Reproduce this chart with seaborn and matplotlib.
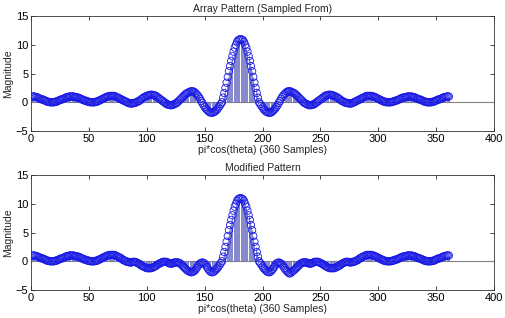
import numpy as np
import seaborn as sns
import matplotlib.pyplot as plt

# sample index (360 samples, main lobe centred on 181)
samples = list(range(1, 362))

# magnitude, sample by sample
array_pattern = [
    1.0, 1.0, 1.0, 0.9, 0.9, 0.8, 0.7, 0.6, 0.5, 0.5, 0.4, 0.3, 0.2, 0.1, 0.1, 0.0, 0.0, 0.0,
    0.0, 0.0, 0.1, 0.1, 0.2, 0.3, 0.4, 0.5, 0.5, 0.6, 0.7, 0.8, 0.9, 0.9, 1.0, 1.0, 1.0,
    1.0, 1.0, 0.9, 0.9, 0.8, 0.8, 0.7, 0.6, 0.5, 0.4, 0.3, 0.3, 0.2, 0.1, 0.1, 0.0, 0.0, 0.0,
    0.0, 0.0, 0.1, 0.1, 0.2, 0.3, 0.4, 0.5, 0.6, 0.7, 0.8, 0.9, 1.0, 1.0, 1.1, 1.1, 1.1,
    1.1, 1.1, 1.0, 0.9, 0.8, 0.7, 0.6, 0.5, 0.4, 0.3, 0.2, 0.1, 0.0, -0.1, -0.2, -0.2, -0.2,
    -0.2, -0.1, -0.1, 0.0, 0.1, 0.2, 0.3, 0.5, 0.6, 0.8, 0.9, 1.0, 1.1, 1.2, 1.2, 1.3, 1.3,
    1.3, 1.2, 1.2, 1.1, 0.9, 0.8, 0.6, 0.5, 0.3, 0.2, 0.0, -0.1, -0.3, -0.4, -0.4, -0.5, -0.5,
    -0.5, -0.4, -0.3, -0.2, -0.1, 0.1, 0.3, 0.5, 0.7, 0.9, 1.1, 1.3, 1.5, 1.6, 1.7, 1.8, 1.9, 1.9,
    1.9, 1.8, 1.6, 1.4, 1.2, 0.9, 0.6, 0.2, -0.1, -0.5, -0.8, -1.1, -1.3, -1.5, -1.7, -1.8, -1.8,
    -1.8, -1.7, -1.6, -1.4, -1.2, -0.9, -0.6, -0.3, 0.0,
    0.8, 1.6, 2.5, 3.4, 4.4, 5.4, 6.3, 7.2, 8.0, 8.8, 9.5, 10.0, 10.5, 10.8, 10.9, 11.0,
    10.9, 10.8, 10.5, 10.0, 9.5, 8.8, 8.0, 7.2, 6.3, 5.4, 4.4, 3.4, 2.5, 1.6, 0.8, 0.0,
    -0.3, -0.6, -0.9, -1.2, -1.4, -1.6, -1.7, -1.8,
    -1.8, -1.8, -1.7, -1.5, -1.3, -1.1, -0.8, -0.5, -0.1, 0.2, 0.6, 0.9, 1.2, 1.4, 1.6, 1.8, 1.9,
    1.9, 1.9, 1.8, 1.7, 1.6, 1.5, 1.3, 1.1, 0.9, 0.7, 0.5, 0.3, 0.1, -0.1, -0.2, -0.3, -0.4, -0.5,
    -0.5, -0.5, -0.4, -0.4, -0.3, -0.1, 0.0, 0.2, 0.3, 0.5, 0.6, 0.8, 0.9, 1.1, 1.2, 1.2, 1.3,
    1.3, 1.3, 1.2, 1.2, 1.1, 1.0, 0.9, 0.8, 0.6, 0.5, 0.3, 0.2, 0.1, 0.0, -0.1, -0.1, -0.2,
    -0.2, -0.2, -0.2, -0.1, 0.0, 0.1, 0.2, 0.3, 0.4, 0.5, 0.6, 0.7, 0.8, 0.9, 1.0, 1.1, 1.1,
    1.1, 1.1, 1.1, 1.0, 1.0, 0.9, 0.8, 0.7, 0.6, 0.5, 0.4, 0.3, 0.2, 0.1, 0.1, 0.0, 0.0,
    0.0, 0.0, 0.0, 0.1, 0.1, 0.2, 0.3, 0.3, 0.4, 0.5, 0.6, 0.7, 0.8, 0.8, 0.9, 0.9, 1.0, 1.0,
    1.0, 1.0, 1.0, 0.9, 0.9, 0.8, 0.7, 0.6, 0.5, 0.5, 0.4, 0.3, 0.2, 0.1, 0.1, 0.0, 0.0,
    0.0, 0.0, 0.0, 0.1, 0.1, 0.2, 0.3, 0.4, 0.5, 0.5, 0.6, 0.7, 0.8, 0.9, 0.9, 1.0, 1.0, 1.0,
]

# magnitude
modified_pattern = [
    1.0, 1.0, 1.0, 0.9, 0.9, 0.8, 0.7, 0.6, 0.5, 0.5, 0.4, 0.3, 0.2, 0.1, 0.1, 0.0, 0.0, 0.0,
    0.0, 0.0, 0.1, 0.1, 0.2, 0.3, 0.4, 0.5, 0.5, 0.6, 0.7, 0.8, 0.9, 0.9, 1.0, 1.0, 1.0,
    1.0, 1.0, 0.9, 0.9, 0.8, 0.8, 0.7, 0.6, 0.5, 0.4, 0.3, 0.3, 0.2, 0.1, 0.1, 0.0, 0.0, 0.0,
    0.0, 0.0, 0.1, 0.1, 0.2, 0.3, 0.4, 0.5, 0.6, 0.7, 0.8, 0.9, 1.0, 1.0, 1.1, 1.1, 1.1,
    1.1, 1.1, 1.0, 0.9, 0.8, 0.7, 0.6, 0.5, 0.3, 0.2, 0.1, 0.0, -0.1, -0.1, -0.2, -0.2,
    -0.2, -0.1, -0.1, -0.1, -0.2, -0.3, -0.4, -0.5, -0.7, -0.8, -0.9, -1.0, -1.1, -1.2, -1.2, -1.2, -1.2, -1.2,
    -1.1, -1.0, -0.9, -0.8, -0.6, -0.5, -0.4, -0.3, -0.2, -0.1, -0.1, -0.1, -0.1, -0.2, -0.3, -0.4, -0.4, -0.4,
    -0.3, -0.2, -0.2, -0.2, -0.2, -0.3, -0.4, -0.6, -0.8, -1.0, -1.2, -1.4, -1.6, -1.7, -1.8, -1.9, -1.9,
    -1.8, -1.7, -1.5, -1.2, -0.9, -0.6, -0.4, -0.3, -0.2, -0.3, -0.4, -0.7, -1.0, -1.3, -1.6, -1.8, -1.9,
    -1.9, -1.8, -1.6, -1.4, -1.2, -0.9, -0.6, -0.3, 0.0,
    0.8, 1.6, 2.5, 3.4, 4.4, 5.4, 6.3, 7.2, 8.0, 8.8, 9.5, 10.0, 10.5, 10.8, 10.9, 11.0,
    10.9, 10.8, 10.5, 10.0, 9.5, 8.8, 8.0, 7.2, 6.3, 5.4, 4.4, 3.4, 2.5, 1.6, 0.8, 0.0,
    -0.3, -0.6, -0.9, -1.2, -1.4, -1.6, -1.8, -1.9,
    -1.9, -1.8, -1.6, -1.3, -1.0, -0.7, -0.4, -0.3, -0.2, -0.3, -0.4, -0.6, -0.9, -1.2, -1.5, -1.7, -1.9,
    -2.1, -2.1, -1.9, -1.7, -1.6, -1.4, -1.2, -1.0, -0.8, -0.6, -0.4, -0.3, -0.2, -0.2, -0.2, -0.2, -0.3,
    -0.4, -0.4, -0.4, -0.3, -0.2, -0.1, -0.1, -0.1, -0.1, -0.2, -0.3, -0.4, -0.5, -0.6, -0.8, -0.9, -1.0, -1.1,
    -1.2, -1.2, -1.2, -1.2, -1.2, -1.1, -1.0, -0.9, -0.8, -0.7, -0.5, -0.4, -0.3, -0.2, -0.1, -0.1, -0.1, -0.2,
    -0.2, -0.2, -0.1, -0.1, 0.0, 0.1, 0.2, 0.3, 0.5, 0.6, 0.7, 0.8, 0.9, 1.0, 1.1, 1.1,
    1.1, 1.1, 1.1, 1.0, 1.0, 0.9, 0.8, 0.7, 0.6, 0.5, 0.4, 0.3, 0.2, 0.1, 0.1, 0.0, 0.0,
    0.0, 0.0, 0.0, 0.1, 0.1, 0.2, 0.3, 0.3, 0.4, 0.5, 0.6, 0.7, 0.8, 0.8, 0.9, 0.9, 1.0, 1.0,
    1.0, 1.0, 1.0, 0.9, 0.9, 0.8, 0.7, 0.6, 0.5, 0.5, 0.4, 0.3, 0.2, 0.1, 0.1, 0.0, 0.0,
    0.0, 0.0, 0.0, 0.1, 0.1, 0.2, 0.3, 0.4, 0.5, 0.5, 0.6, 0.7, 0.8, 0.9, 0.9, 1.0, 1.0, 1.0,
]

titles = ["Array Pattern (Sampled From)", "Modified Pattern"]
x_ticks = [0, 50, 100, 150, 200, 250, 300, 350, 400]
y_ticks = [-5, 0, 5, 10, 15]

sns.set_style("ticks")
plt.rcParams['font.family'] = ['Liberation Sans', 'DejaVu Sans']
plt.rcParams['xtick.direction'] = 'in'
plt.rcParams['ytick.direction'] = 'in'

fig = plt.figure(figsize=(5.06, 3.18), dpi=100)
# axes boxes placed like the matlab subplot(2,1,k) layout
boxes = [[0.0613, 0.588, 0.915, 0.3616], [0.0613, 0.088, 0.915, 0.3616]]

for box, vals, title in zip(boxes, [array_pattern, modified_pattern], titles):
    ax = fig.add_axes(box)
    x = np.array(samples)
    y = np.array(vals)
    ax.axhline(0, color='#808080', lw=0.8, zorder=1)
    ax.vlines(x, 0, y, colors='#7074c4', lw=0.6, zorder=2)
    sns.scatterplot(x=x, y=y, ax=ax, marker='o', s=28, facecolor='none',
                    edgecolor='#1a1ae6', linewidth=0.6, zorder=3)
    ax.set_xlim(0, 400)
    ax.set_ylim(-5, 15)
    ax.set_xticks(x_ticks)
    ax.set_yticks(y_ticks)
    ax.tick_params(labelsize=8, length=3, width=0.6, top=True, right=True, pad=2,
                   labelcolor='black')
    for s in ax.spines.values():
        s.set_linewidth(0.6)
        s.set_color('#333333')
    ax.set_title(title, fontsize=7.5, pad=3)
    ax.set_xlabel("pi*cos(theta) (360 Samples)", fontsize=7.5, labelpad=1)
    ax.set_ylabel("Magnitude", fontsize=7.5, labelpad=2)

fig.savefig("out.png", dpi=100)
